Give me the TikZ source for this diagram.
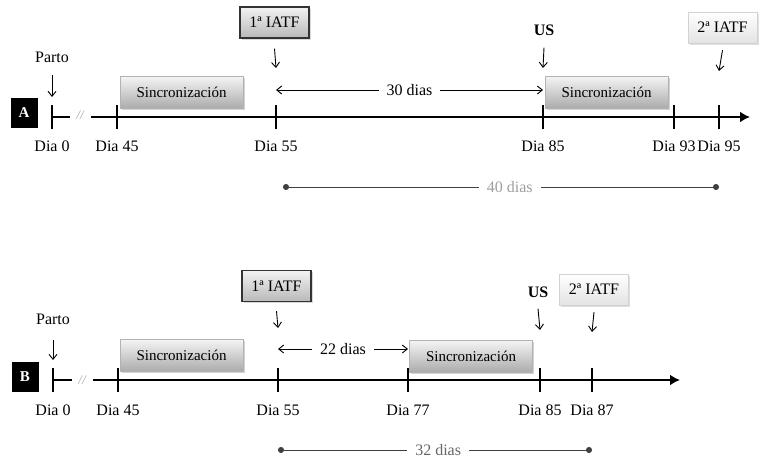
\documentclass[tikz,border=0pt]{standalone}
\usepackage{fontspec}
\setmainfont{Liberation Serif}
\usetikzlibrary{positioning, arrows.meta, shadows}
\tikzset{
	eje/.style={line width=2.2pt, -{Latex[length=10pt,width=11pt]}}, % eje del tiempo
	marca/.style={line width=1.2pt},
	flecha/.style={line width=0.9pt, -{Straight Barb[length=5pt,width=8pt]}},
	doble/.style={line width=0.9pt, {Straight Barb[length=5pt,width=8pt]}-{Straight Barb[length=5pt,width=8pt]}},
	intervalo/.style={line width=1pt, draw=black!75, {Circle[length=6pt]}-{Circle[length=6pt]}},
	texto/.style={font=\fontsize{16}{19}\selectfont, inner sep=2pt},
	letra/.style={fill=black, text=white, font=\fontsize{15}{18}\selectfont\bfseries, minimum width=27pt, minimum height=30pt},
	corte/.style={fill=white, text=gray!70, font=\fontsize{13}{15}\selectfont\itshape, minimum width=21pt, minimum height=24pt, inner sep=0pt},
	sinc/.style={draw=gray!60, top color=gray!8, bottom color=gray!65, minimum width=123pt, minimum height=32pt, font=\fontsize{15}{18}\selectfont, drop shadow={opacity=0.35, shadow xshift=1.5pt, shadow yshift=-2pt}},
	iatfuno/.style={draw=black!80, line width=1.2pt, top color=gray!10, bottom color=gray!55, minimum width=69pt, minimum height=31pt, font=\fontsize{16}{19}\selectfont, drop shadow={opacity=0.3, shadow xshift=1.5pt, shadow yshift=-1.5pt}},
	iatfdos/.style={draw=gray!35, top color=white, bottom color=gray!22, minimum width=69pt, minimum height=31pt, font=\fontsize{16}{19}\selectfont, drop shadow={opacity=0.25, shadow xshift=1.5pt, shadow yshift=-1.5pt}},
}

\begin{document}
\begin{tikzpicture}[x=1pt, y=-1pt]
	\useasboundingbox (0,0) rectangle (763,461);

	% ---------- A ----------
	\draw[eje] (52,117) -- (750,117);
	\foreach \n/\x in {0/52, 45/117, 55/276, 85/543, 93/674, 95/719} {
		\coordinate (a\n) at (\x,117);
		\draw[marca] ([yshift=12pt]a\n) -- ([yshift=-12pt]a\n);
		\node[texto] (la\n) at (\x,146) {Dia \n};
	}
	\node[letra] (letraA) at (24,113) {A};
	\node[corte] (corteA) at (80,115) {//};

	\node[texto] (partoA) at (52,57) {Parto};
	\node[sinc] (sincA1) at (181.5,92) {Sincronización};
	\node[iatfuno] (iatfA1) at (274.5,22.5) {1ª IATF};
	\node[texto, font=\fontsize{16}{19}\selectfont\bfseries] (usA) at (544,30) {US};
	\node[sinc] (sincA2) at (606.5,92) {Sincronización};
	\node[iatfdos] (iatfA2) at (722.5,27.5) {2ª IATF};

	\draw[flecha] ([yshift=-10pt]partoA.south) -- ([yshift=20pt]a0);
	\draw[flecha] ([yshift=-10pt]iatfA1.south) -- ([yshift=49pt]a55);
	\draw[flecha] ([yshift=-10pt]usA.south) -- ([yshift=49pt]a85);
	\draw[flecha] ([yshift=-7pt]iatfA2.south) -- ([yshift=46pt]a95);

	\draw[doble] ([yshift=27pt]a55) -- node[texto, fill=white, inner xsep=8pt] {30 dias} ([yshift=27pt]a85);
	\draw[intervalo] ([xshift=7pt, yshift=-70pt]a55) -- node[texto, fill=white, text=gray!75, pos=0.52, inner xsep=8pt] {40 dias} ([yshift=-70pt]a95);

	% ---------- B ----------
	\draw[eje] (53,380) -- (680,380);
	\foreach \n/\x in {0/53, 45/118, 55/278, 77/408, 85/540, 87/592} {
		\coordinate (b\n) at (\x,380);
		\draw[marca] ([yshift=12pt]b\n) -- ([yshift=-12pt]b\n);
		\node[texto] (lb\n) at (\x,410) {Dia \n};
	}
	\node[letra] (letraB) at (25,376.5) {B};
	\node[corte] (corteB) at (82,380) {//};

	\node[texto] (partoB) at (53,319) {Parto};
	\node[sinc] (sincB1) at (181.5,355) {Sincronización};
	\node[iatfuno] (iatfB1) at (276.5,286) {1ª IATF};
	\node[sinc] (sincB2) at (471,356) {Sincronización};
	\node[texto, font=\fontsize{16}{19}\selectfont\bfseries] (usB) at (538,292) {US};
	\node[iatfdos] (iatfB2) at (594,289.5) {2ª IATF};

	\draw[flecha] ([yshift=-13pt]partoB.south) -- ([yshift=20pt]b0);
	\draw[flecha] ([yshift=-9pt]iatfB1.south) -- ([yshift=52pt]b55);
	\draw[flecha] ([yshift=-9pt]usB.south) -- ([yshift=50pt]b85);
	\draw[flecha] ([yshift=-7pt]iatfB2.south) -- ([yshift=48pt]b87);

	\draw[doble] ([yshift=31pt]b55) -- node[texto, fill=white, inner xsep=8pt] {22 dias} ([yshift=31pt]b77);
	\draw[intervalo] ([yshift=-70pt]b55) -- node[texto, fill=white, text=black!60, pos=0.51, inner xsep=8pt] {32 dias} ([yshift=-70pt]b87);
\end{tikzpicture}
\end{document}
